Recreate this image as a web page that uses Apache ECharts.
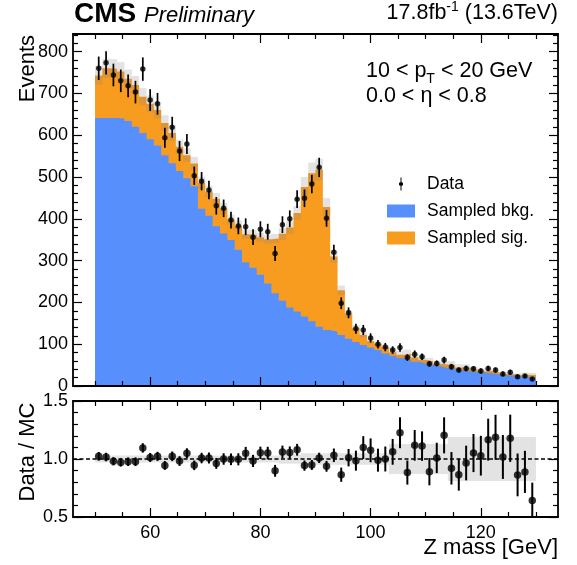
<!DOCTYPE html>
<html><head><meta charset="utf-8">
<script src="https://cdn.jsdelivr.net/npm/echarts@6/dist/echarts.min.js"></script>
<style>html,body{margin:0;padding:0;background:#fff}#c{width:577px;height:565px}</style>
</head><body><div id="c"></div>
<script>
// ---- data (60 bins from 50 to 130 GeV) ----
const binLow = 50, binHigh = 130;
const bkg = [641,641,641,640,634,620,605,590,575,552, 533,514,497,478,424,407,382,365,349,326,
             296,283,266,245,222,204,188,178,166,155, 142,134,130,122,113,105,98,92,86,78,
             72,67,63,58,54,51,47,43,41,38, 36,34,32,30,28,26,25,23,22,20];
const sig = [102,119,118,112,101,100,87,85,85,77, 72,58,55,54,62,58,66,60,49,58,
             67,79,90,106,131,160,191,236,310,354, 376,294,180,107,60,34,24,15,15,15,
             9,8,14,10,9,8.5,6.5,8.5,9,6, 7.5,5,3,6,4,2.5,3,2.5,5,6.5];
const dataVals = [760,773,744,730,718,703,758,684,675,594, 619,562,579,503,490,469,431,425,397,383,
                  381,356,375,369,317,386,400,447,449,483, 523,401,320,198,175,137,134,115,100,93,
                  86,92,68,76,70,53,54,62,46,38, 42,41,36,42,38,29,33,22,24,17];
const dataErr = [28,28,27,27,27,27,28,26,26,24, 25,24,24,22,22,22,21,21,20,20,
                 20,19,19,19,18,20,20,21,21,22, 23,20,18,14,13,12,12,11,10,10,
                 9,10,8,9,8,7,7,8,7,6, 6.5,6.4,6,6.5,6.2,5.4,5.7,4.7,4.9,4.1];
const mcRelUnc = [0.03,0.03,0.03,0.03,0.03,0.03,0.03,0.03,0.03,0.03, 0.03,0.03,0.03,0.03,0.03,0.03,0.03,0.03,0.03,0.03,
                  0.03,0.03,0.03,0.03,0.03,0.04,0.04,0.04,0.05,0.05, 0.05,0.05,0.05,0.05,0.05,0.05,0.05,0.05,0.05,0.05,
                  0.13,0.13,0.13,0.13,0.13,0.13,0.13,0.13,0.19,0.19, 0.19,0.19,0.19,0.19,0.19,0.19,0.19,0.19,0.19,0.19];
const xMajorTicks = [60,80,100,120];
const xMinorTicks = [50,55,65,70,75,85,90,95,105,110,115,125,130];
const yMajorTicks = [0,100,200,300,400,500,600,700,800];
const yMinorTicks = [20,40,60,80,120,140,160,180,220,240,260,280,320,340,360,380,420,440,460,480,
                     520,540,560,580,620,640,660,680,720,740,760,780,820,840];
const rMajorTicks = [0.5,1.0,1.5];
const rMinorTicks = [0.6,0.7,0.8,0.9,1.1,1.2,1.3,1.4];

// ---- build ----
const FONT = "'Liberation Sans', Arial, Helvetica, sans-serif";
const BLUE = '#5790fc', ORANGE = '#f89c20', BAND = 'rgba(128,128,128,0.22)';
const nb = bkg.length, bw = (binHigh - binLow) / nb;
const edges = Array.from({length: nb + 1}, (_, i) => binLow + i * bw);
const centers = bkg.map((_, i) => binLow + (i + 0.5) * bw);
const total = bkg.map((b, i) => b + sig[i]);
const stepData = vals => vals.map((v, i) => [edges[i], v]).concat([[edges[nb], vals[nb - 1]]]);

function xAx(grid, pos, ticks, len, labels, line) {
  return {type: 'value', gridIndex: grid, position: pos, min: 46, max: 134, z: 5,
    axisLine: {show: !!line, onZero: false, lineStyle: {color: '#000', width: 1.8}},
    axisTick: {show: true, inside: true, length: len, customValues: ticks, lineStyle: {color: '#000', width: 1.2}},
    axisLabel: labels ? {show: true, customValues: labels, margin: 7, color: '#000', fontSize: 18, fontFamily: FONT} : {show: false},
    splitLine: {show: false}, minorTick: {show: false}, minorSplitLine: {show: false}};
}
function yAx(grid, pos, min, max, ticks, len, labels, line, fmt) {
  return {type: 'value', gridIndex: grid, position: pos, min: min, max: max, z: 5,
    axisLine: {show: !!line, onZero: false, lineStyle: {color: '#000', width: 1.8}},
    axisTick: {show: true, inside: true, length: len, customValues: ticks, lineStyle: {color: '#000', width: 1.2}},
    axisLabel: labels ? {show: true, customValues: labels, margin: 5, color: '#000', fontSize: 18, fontFamily: FONT, formatter: fmt} : {show: false},
    splitLine: {show: false}, minorTick: {show: false}, minorSplitLine: {show: false}};
}
function rectItem(fill) {
  return function (params, api) {
    const a = api.coord([api.value(0), api.value(3)]);
    const b = api.coord([api.value(1), api.value(2)]);
    return {type: 'rect', shape: {x: a[0], y: a[1], width: b[0] - a[0], height: b[1] - a[1]}, style: {fill: fill}};
  };
}
function errItem(width) {
  return function (params, api) {
    const a = api.coord([api.value(0), api.value(1)]);
    const b = api.coord([api.value(0), api.value(2)]);
    return {type: 'line', shape: {x1: a[0], y1: a[1], x2: b[0], y2: b[1]}, style: {stroke: '#000', lineWidth: width}};
  };
}

const bandMain = total.map((t, i) => [edges[i], edges[i + 1], t * (1 - mcRelUnc[i]), t * (1 + mcRelUnc[i])]);
const bandRatio = total.map((t, i) => [edges[i], edges[i + 1], 1 - mcRelUnc[i], 1 + mcRelUnc[i]]);
const errMain = dataVals.map((d, i) => [centers[i], d - dataErr[i], d + dataErr[i]]);
const ptsMain = dataVals.map((d, i) => [centers[i], d]);
const ratioPts = dataVals.map((d, i) => [centers[i], d / total[i]]);
const ratioErr = dataVals.map((d, i) => [centers[i], (d - dataErr[i]) / total[i], (d + dataErr[i]) / total[i]]);

const DATA_ICON = 'path://M2.4,0 L3.6,0 L3.6,16 L2.4,16 Z M5.6,8 A2.6,2.6 0 1 1 0.4,8 A2.6,2.6 0 1 1 5.6,8 Z';

const chart = echarts.init(document.getElementById('c'), null, {renderer: 'canvas', width: 577, height: 565});
chart.setOption({
  animation: false,
  backgroundColor: '#fff',
  textStyle: {fontFamily: FONT},
  grid: [
    {left: 73, right: 19, top: 34, height: 352, outerBoundsMode: 'none', containLabel: false, show: false},
    {left: 73, right: 19, top: 401, height: 116, outerBoundsMode: 'none', containLabel: false, show: false}
  ],
  xAxis: [
    xAx(0, 'bottom', xMajorTicks, 9, null, true),
    xAx(0, 'top', xMajorTicks, 9, null, true),
    xAx(0, 'bottom', xMinorTicks, 5, null, false),
    xAx(0, 'top', xMinorTicks, 5, null, false),
    xAx(1, 'bottom', xMajorTicks, 9, xMajorTicks, true),
    xAx(1, 'top', xMajorTicks, 9, null, true),
    xAx(1, 'bottom', xMinorTicks, 5, null, false),
    xAx(1, 'top', xMinorTicks, 5, null, false)
  ],
  yAxis: [
    yAx(0, 'left', 0, 842, yMajorTicks, 9, yMajorTicks, true),
    yAx(0, 'right', 0, 842, yMajorTicks, 9, null, true),
    yAx(0, 'left', 0, 842, yMinorTicks, 5, null, false),
    yAx(0, 'right', 0, 842, yMinorTicks, 5, null, false),
    yAx(1, 'left', 0.5, 1.5, rMajorTicks, 9, rMajorTicks, true, v => Number(v).toFixed(1)),
    yAx(1, 'right', 0.5, 1.5, rMajorTicks, 9, null, true),
    yAx(1, 'left', 0.5, 1.5, rMinorTicks, 5, null, false),
    yAx(1, 'right', 0.5, 1.5, rMinorTicks, 5, null, false)
  ],
  legend: {
    orient: 'vertical', left: 382, top: 169, itemWidth: 28, itemHeight: 13, itemGap: 7, selectedMode: false,
    textStyle: {fontSize: 17.5, fontFamily: FONT, color: '#000', padding: [0, 0, 0, 7], lineHeight: 20},
    data: [
      {name: 'Data', icon: DATA_ICON, itemStyle: {color: '#000', borderWidth: 0}},
      {name: 'Sampled bkg.', icon: 'rect', itemStyle: {color: BLUE, borderWidth: 0}},
      {name: 'Sampled sig.', icon: 'rect', itemStyle: {color: ORANGE, borderWidth: 0}}
    ]
  },
  series: [
    {type: 'line', name: 'Sampled sig.', xAxisIndex: 0, yAxisIndex: 0, data: stepData(total), step: 'end',
     symbol: 'none', showSymbol: false, lineStyle: {width: 0, color: ORANGE}, itemStyle: {color: ORANGE},
     areaStyle: {color: ORANGE, opacity: 1}, z: 1, silent: true, clip: true},
    {type: 'line', name: 'Sampled bkg.', xAxisIndex: 0, yAxisIndex: 0, data: stepData(bkg), step: 'end',
     symbol: 'none', showSymbol: false, lineStyle: {width: 0, color: BLUE}, itemStyle: {color: BLUE},
     areaStyle: {color: BLUE, opacity: 1}, z: 1, silent: true, clip: true},
    {type: 'custom', name: 'MC unc.', xAxisIndex: 0, yAxisIndex: 0, data: bandMain, encode: {x: [0, 1], y: [2, 3]},
     renderItem: rectItem(BAND), z: 2, silent: true, clip: true},
    {type: 'custom', name: 'Data', xAxisIndex: 0, yAxisIndex: 0, data: errMain, encode: {x: 0, y: [1, 2]},
     renderItem: errItem(1.7), z: 3, silent: true, clip: true, itemStyle: {color: '#000'}},
    {type: 'scatter', name: 'Data', xAxisIndex: 0, yAxisIndex: 0, data: ptsMain, symbolSize: 5.5,
     itemStyle: {color: '#000'}, z: 4, silent: true},
    {type: 'custom', name: 'ratio unc.', xAxisIndex: 4, yAxisIndex: 4, data: bandRatio, encode: {x: [0, 1], y: [2, 3]},
     renderItem: rectItem(BAND), z: 2, silent: true, clip: true},
    {type: 'line', name: 'unity', xAxisIndex: 4, yAxisIndex: 4, data: [[46, 1], [134, 1]], symbol: 'none',
     lineStyle: {color: '#000', width: 1.3, type: [4, 2.5]}, z: 3, silent: true},
    {type: 'custom', name: 'ratio err', xAxisIndex: 4, yAxisIndex: 4, data: ratioErr, encode: {x: 0, y: [1, 2]},
     renderItem: errItem(2), z: 3, silent: true, clip: true},
    {type: 'scatter', name: 'ratio', xAxisIndex: 4, yAxisIndex: 4, data: ratioPts, symbolSize: 7.5,
     itemStyle: {color: '#000'}, z: 4, silent: true, clip: true}
  ],
  graphic: [
    {type: 'text', x: 74, y: 14.5, style: {text: 'CMS', fontSize: 28, fontWeight: 'bold', fontFamily: FONT, fill: '#000', align: 'left', verticalAlign: 'middle', textAlign: 'left', textVerticalAlign: 'middle'}},
    {type: 'text', x: 144, y: 16, style: {text: 'Preliminary', fontSize: 22, fontStyle: 'italic', fontFamily: FONT, fill: '#000', align: 'left', verticalAlign: 'middle', textAlign: 'left', textVerticalAlign: 'middle'}},
    {type: 'text', x: 558, y: 13, style: {text: '{a|17.8fb}{s|-1}{a| (13.6TeV)}', fill: '#000', align: 'right', verticalAlign: 'middle', textAlign: 'right', textVerticalAlign: 'middle',
      rich: {a: {fontSize: 21.5, fontFamily: FONT, lineHeight: 25, fill: '#000'}, s: {fontSize: 14, fontFamily: FONT, lineHeight: 25, verticalAlign: 'top', fill: '#000'}}}},
    {type: 'text', x: 366, y: 71, style: {text: '{a|10 < p}{b|T}{a| < 20 GeV}', fill: '#000', align: 'left', verticalAlign: 'middle', textAlign: 'left', textVerticalAlign: 'middle',
      rich: {a: {fontSize: 21.5, fontFamily: FONT, lineHeight: 30, fill: '#000'}, b: {fontSize: 14, fontFamily: FONT, lineHeight: 30, verticalAlign: 'bottom', fill: '#000'}}}},
    {type: 'text', x: 366, y: 96, style: {text: '0.0 < η < 0.8', fontSize: 21.5, fontFamily: FONT, fill: '#000', align: 'left', verticalAlign: 'middle', textAlign: 'left', textVerticalAlign: 'middle'}},
    {type: 'text', x: 28, y: 35, rotation: Math.PI / 2, style: {text: 'Events', fontSize: 22, fontFamily: FONT, fill: '#000', align: 'right', verticalAlign: 'middle', textAlign: 'right', textVerticalAlign: 'middle'}},
    {type: 'text', x: 28, y: 452, rotation: Math.PI / 2, style: {text: 'Data / MC', fontSize: 22, fontFamily: FONT, fill: '#000', align: 'center', verticalAlign: 'middle', textAlign: 'center', textVerticalAlign: 'middle'}},
    {type: 'text', x: 558, y: 548, style: {text: 'Z mass [GeV]', fontSize: 22, fontFamily: FONT, fill: '#000', align: 'right', verticalAlign: 'middle', textAlign: 'right', textVerticalAlign: 'middle'}}
  ]
});
</script>
</body></html>
